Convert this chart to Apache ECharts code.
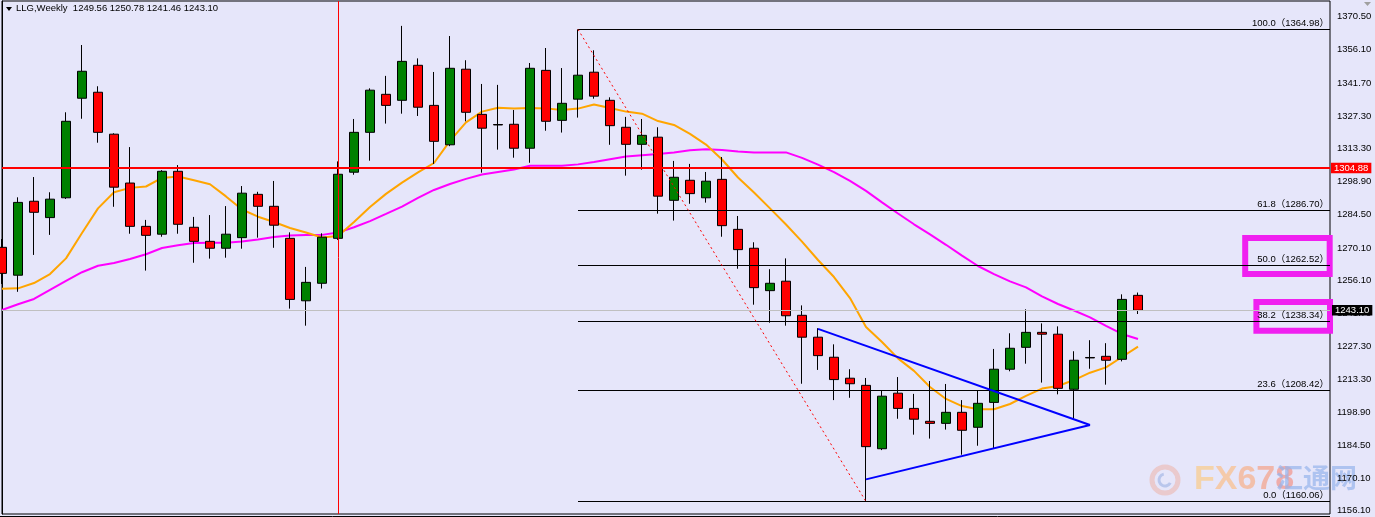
<!DOCTYPE html>
<html><head><meta charset="utf-8">
<script src="https://cdn.jsdelivr.net/npm/echarts@6/dist/echarts.min.js"></script>
<style>html,body{margin:0;padding:0;background:#e6e6fa;}#c{width:1375px;height:517px;}</style>
</head><body><div id="c"></div>
<script>
// ---- data (weekly candles, oldest first) ----
const symbolTitle = 'LLG,Weekly';
const lastQuote = ['1249.56', '1250.78', '1241.46', '1243.10'];
const opens = [1270.4,1258.3,1290.4,1283.3,1291.9,1335.1,1337.7,1319.5,1298.3,1279.5,
  1276.1,1303.4,1279.1,1273.0,1270.0,1274.6,1293.4,1288.2,1274.3,1247.2,
  1254.8,1274.3,1303.0,1320.3,1336.8,1334.2,1349.4,1332.0,1314.9,1347.7,
  1328.1,1323.7,1323.8,1313.4,1347.2,1325.5,1334.7,1346.4,1334.2,1322.5,
  1315.1,1318.2,1290.8,1299.5,1291.9,1299.9,1278.2,1270.0,1251.6,1255.7,
  1240.9,1231.4,1222.7,1213.6,1210.5,1183.0,1207.1,1200.5,1194.9,1194.0,
  1198.8,1192.3,1203.1,1217.5,1227.0,1233.5,1232.7,1208.8,1222.6,1223.1,
  1221.8,1249.56];
const highs = [1274.0,1292.1,1300.9,1294.3,1329.0,1358.2,1340.3,1319.9,1313.9,1282.3,
  1303.9,1306.1,1283.6,1284.4,1288.3,1297.0,1294.5,1299.2,1276.9,1261.9,
  1276.5,1307.7,1326.1,1339.4,1344.8,1366.5,1352.4,1346.5,1362.1,1351.6,
  1341.3,1340.9,1330.0,1350.4,1356.9,1348.2,1364.98,1355.9,1335.5,1327.0,
  1326.1,1322.5,1307.9,1306.6,1303.1,1309.6,1284.0,1272.6,1260.9,1265.6,
  1245.2,1235.3,1228.3,1217.5,1213.7,1208.1,1214.1,1206.8,1212.4,1211.1,
  1204.1,1208.1,1226.3,1233.1,1243.5,1237.4,1236.1,1225.3,1230.1,1228.8,
  1250.0,1250.78];
const lows = [1254.5,1251.1,1267.1,1275.8,1291.4,1326.2,1315.8,1288.0,1276.3,1260.3,
  1275.0,1276.3,1263.7,1265.5,1265.9,1269.8,1274.6,1270.2,1243.8,1236.4,
  1252.5,1273.6,1301.9,1308.0,1324.1,1328.4,1327.4,1306.6,1314.3,1325.1,
  1302.8,1312.8,1309.3,1307.1,1321.0,1320.2,1326.7,1334.9,1314.9,1301.5,
  1304.1,1285.0,1282.0,1289.3,1289.8,1275.0,1261.1,1245.5,1237.7,1236.4,
  1211.2,1217.2,1204.1,1205.1,1160.06,1182.4,1196.0,1189.1,1187.4,1191.3,
  1180.4,1184.3,1183.0,1216.6,1219.9,1211.7,1206.6,1195.8,1217.7,1210.8,
  1220.9,1241.46];
const closes = [1259.1,1289.9,1285.6,1291.3,1325.1,1346.8,1320.3,1296.5,1279.5,1275.6,
  1303.4,1280.4,1273.0,1270.0,1276.1,1293.9,1288.2,1280.0,1247.8,1255.2,
  1274.8,1302.1,1320.3,1338.6,1332.0,1351.1,1331.2,1316.4,1348.1,1329.0,
  1322.1,1323.5,1313.4,1348.1,1325.1,1332.9,1345.1,1336.0,1323.2,1315.1,
  1319.0,1292.6,1300.8,1293.7,1299.1,1279.8,1269.4,1252.9,1254.8,1240.7,
  1231.4,1223.4,1213.0,1211.2,1183.9,1205.8,1200.5,1195.8,1194.0,1198.8,
  1191.0,1202.7,1217.5,1226.6,1233.5,1232.7,1209.2,1221.4,1222.4,1221.4,
  1247.8,1243.10];
// orange (fast) moving average as drawn
const maFast = [1252.4,1252.6,1254.9,1258.8,1265.6,1276.6,1287.3,1294.3,1296.2,1296.8,
  1300.5,1301.1,1299.5,1297.8,1292.5,1286.8,1283.7,1281.4,1278.8,1276.8,
  1274.7,1275.3,1281.4,1287.9,1293.6,1298.5,1302.9,1307.0,1316.6,1324.6,
  1329.3,1331.0,1330.6,1330.9,1330.7,1330.0,1330.6,1332.4,1330.9,1329.3,
  1328.4,1325.2,1323.5,1319.6,1315.0,1308.5,1300.7,1294.2,1287.3,1280.3,
  1272.9,1264.9,1257.5,1248.4,1235.8,1229.3,1222.2,1216.8,1209.8,1204.6,
  1201.5,1200.1,1200.1,1202.4,1205.9,1209.1,1210.2,1212.8,1216.0,1218.3,
  1222.8,1227.3];
// magenta (slow) moving average as drawn
const maSlow = [1243.2,1245.7,1248.0,1251.9,1255.8,1259.6,1262.4,1263.6,1265.3,1267.4,
  1270.1,1271.3,1272.3,1272.4,1272.4,1272.9,1273.8,1274.9,1275.5,1275.7,
  1275.8,1276.8,1279.1,1281.8,1284.9,1288.1,1291.9,1295.3,1297.9,1300.1,
  1302.0,1303.1,1304.2,1305.8,1305.8,1305.8,1306.4,1307.4,1308.6,1309.8,
  1310.4,1310.9,1311.6,1312.5,1313.0,1312.6,1312.0,1311.6,1311.6,1311.6,
  1309.2,1306.3,1303.0,1299.2,1294.9,1289.9,1285.1,1280.4,1276.0,1271.5,
  1266.8,1262.3,1258.8,1255.6,1253.0,1249.1,1245.8,1243.0,1240.0,1236.3,
  1232.8,1230.6];
const yTickValues = [1156.10,1170.10,1184.50,1198.90,1213.30,1227.30,1241.70,1256.10,
  1270.10,1284.50,1298.90,1313.30,1327.30,1341.70,1356.10,1370.50];
const fibLevels = ['0.0','23.6','38.2','50.0','61.8','100.0'];
const fibPrices = [1160.06,1208.42,1238.34,1262.52,1286.70,1364.98];
const fibStartBar = 36;
const swingLine = [[36,1364.98],[54,1160.06]];
const triangleUpper = [[51,1235.0],[68,1193.3]];
const triangleLower = [[54,1169.7],[68,1193.3]];
const resistancePrice = 1304.88;
const bidPrice = 1243.10;
const markerBar = 21;
const highlightBoxes = [[77.7,1274.5,82.98,1258.8],[78.4,1246.7,83.0,1234.2]];
const visibleBars = 83;

// ---- chart ----
const FONT = 'Liberation Sans, Noto Sans CJK SC, sans-serif';
const chart = echarts.init(document.getElementById('c'), null, {renderer: 'canvas'});
const candleData = opens.map((o, i) => [i, o, closes[i], lows[i], highs[i]]);
const fastData = maFast.map((v, i) => [i, v]);
const slowData = maSlow.map((v, i) => [i, v]);

const lastX = visibleBars;
const markLines = [];
fibLevels.forEach((lv, i) => {
  markLines.push([
    {coord: [fibStartBar, fibPrices[i]],
     lineStyle: {color: '#000', width: 1, type: 'solid'},
     label: {show: true, position: 'insideEndTop', formatter: lv + '（' + fibPrices[i].toFixed(2) + '）',
             color: '#000', fontSize: 9.5, fontFamily: FONT, distance: [1, 1]}},
    {coord: [lastX, fibPrices[i]]}
  ]);
});
markLines.push([{coord: swingLine[0], lineStyle: {color: '#ff0000', width: 1, type: [2, 3]}}, {coord: swingLine[1]}]);
markLines.push([{coord: triangleUpper[0], lineStyle: {color: '#0000ff', width: 2, type: 'solid'}}, {coord: triangleUpper[1]}]);
markLines.push([{coord: triangleLower[0], lineStyle: {color: '#0000ff', width: 2, type: 'solid'}}, {coord: triangleLower[1]}]);
markLines.push({yAxis: resistancePrice, lineStyle: {color: '#ff0000', width: 2, type: 'solid'},
  label: {show: true, position: 'end', formatter: resistancePrice.toFixed(2), color: '#fff',
          backgroundColor: '#ff0000', padding: [1, 3, 0, 3], fontSize: 9.5, fontFamily: FONT, distance: 1}});
markLines.push({yAxis: bidPrice, lineStyle: {color: '#c0c0c0', width: 1, type: 'solid'},
  label: {show: true, position: 'end', formatter: bidPrice.toFixed(2), color: '#fff',
          backgroundColor: '#000', padding: [1, 3, 0, 3], fontSize: 9.5, fontFamily: FONT, distance: 2}});
markLines.push({xAxis: markerBar, lineStyle: {color: '#ff0000', width: 1, type: 'solid'}, label: {show: false}});
// price-axis tick marks (outside the plot, to the right of the axis line)
const tickMarks = yTickValues.map(v => [
  {coord: [visibleBars, v], lineStyle: {color: '#000', width: 1, type: 'solid'}},
  {coord: [visibleBars + 0.25, v]}
]);

const fxLetters = ['F', 'X', '6', '7', '8'];
const fxColors = ['rgba(248,206,150,0.8)', 'rgba(247,195,150,0.8)', 'rgba(245,182,150,0.8)', 'rgba(243,170,150,0.8)', 'rgba(241,158,150,0.8)'];
const fxRich = {};
fxLetters.forEach((c, i) => { fxRich['c' + i] = {fill: fxColors[i], font: 'bold 34px Liberation Sans Narrow, Liberation Sans, sans-serif'}; });

const option = {
  animation: false,
  backgroundColor: '#e6e6fa',
  grid: {left: 2, right: 45, top: 1, bottom: 3, show: true, borderColor: '#000', borderWidth: 1, backgroundColor: 'transparent'},
  xAxis: {type: 'value', min: 0, max: visibleBars, show: false},
  yAxis: {
    type: 'value', position: 'right', min: 1154.67, max: 1377.3,
    splitLine: {show: false},
    axisLine: {show: true, lineStyle: {color: '#000', width: 1}},
    axisTick: {show: false},
    axisLabel: {customValues: yTickValues, formatter: v => v.toFixed(2), color: '#000',
                fontSize: 9.5, fontFamily: FONT, margin: 7}
  },
  series: [
    {type: 'line', data: slowData, showSymbol: false, z: 1, lineStyle: {color: '#ff00ff', width: 2}, itemStyle: {color: '#ff00ff'}},
    {type: 'line', data: fastData, showSymbol: false, z: 1, lineStyle: {color: '#ffa500', width: 2}, itemStyle: {color: '#ffa500'}},
    {type: 'candlestick', data: candleData, encode: {x: 0, y: [1, 2, 3, 4]}, barWidth: 10, z: 2, clip: true,
     itemStyle: {color: '#008000', color0: '#ff0000', borderColor: '#000', borderColor0: '#000', borderColorDoji: '#000', borderWidth: 1}},
    {type: 'line', data: [], z: 3, clip: false, silent: true,
     markLine: {silent: true, symbol: ['none', 'none'], animation: false, label: {show: false}, data: markLines.concat(tickMarks)},
     markArea: {silent: true, animation: false, label: {show: false},
       itemStyle: {color: 'rgba(0,0,0,0)', borderColor: '#f020f0', borderWidth: 6},
       data: highlightBoxes.map(b => [{coord: [b[0], b[1]]}, {coord: [b[2], b[3]]}])}}
  ],
  graphic: [
    {type: 'polygon', shape: {points: [[6, 7], [12, 7], [9, 11]]}, style: {fill: '#000'}, z: 10},
    {type: 'text', left: 16, top: 4, z: 10,
     style: {text: symbolTitle + '  ' + lastQuote.join(' '), font: '9.5px ' + FONT, fill: '#000'}},
    {type: 'polygon', shape: {points: [[1364, 2], [1371, 2], [1367.5, 6]]}, style: {fill: '#a0a0a0'}, z: 10},
    {type: 'line', shape: {x1: 0, y1: 516.5, x2: 1330, y2: 516.5}, style: {stroke: '#000', lineWidth: 1}, z: 10},
    // watermark
    {type: 'circle', shape: {cx: 1165, cy: 480, r: 13}, style: {fill: 'none', stroke: 'rgba(240,150,120,0.35)', lineWidth: 5}, z: -1},
    {type: 'arc', shape: {cx: 1165, cy: 480, r: 6, startAngle: 0.5, endAngle: 4.5}, style: {fill: 'none', stroke: 'rgba(130,160,220,0.45)', lineWidth: 3}, z: -1},
    {type: 'text', x: 1194, y: 463, z: -1,
     style: {text: fxLetters.map((c, i) => '{c' + i + '|' + c + '}').join(''), rich: fxRich,
             font: 'bold 34px Liberation Sans Narrow, Liberation Sans, sans-serif', fill: 'rgba(245,182,150,0.8)'}},
    {type: 'text', x: 1276, y: 464, z: -1,
     style: {text: '汇通网', font: 'bold 27px Noto Sans CJK SC, sans-serif', fill: 'rgba(150,180,235,0.7)'}}
  ]
};
chart.setOption(option);
</script>
</body></html>
